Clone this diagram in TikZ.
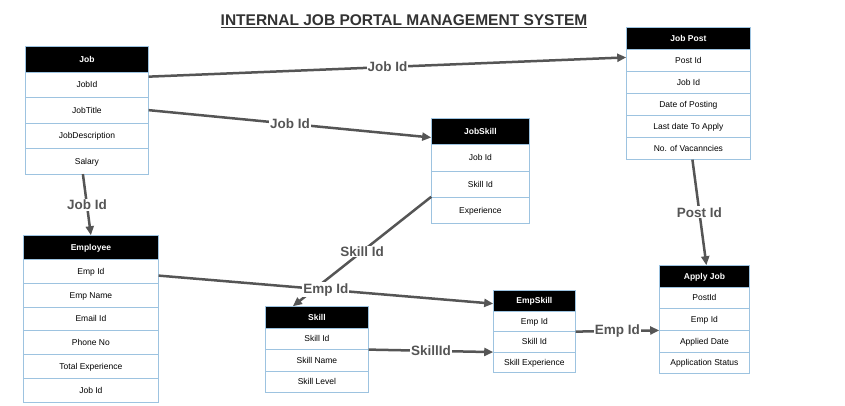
\documentclass[tikz,border=0pt]{standalone}
\usepackage{fontspec}
\setmainfont{Liberation Sans}
\usetikzlibrary{matrix, arrows.meta, positioning}
\definecolor{tblue}{HTML}{9DC3E0}
\definecolor{lgray}{HTML}{555555}
\definecolor{tgray}{HTML}{333333}

\begin{document}
\begin{tikzpicture}[x=1pt,y=-1pt,
entity/.style={matrix of nodes,anchor=north west,inner sep=0pt,row sep=-\pgflinewidth,
  nodes={draw=tblue,fill=white,anchor=center,inner sep=0pt,text height=1.6ex,text depth=0.4ex,font=\fontsize{8.5}{9.5}\selectfont},
  row 1/.style={nodes={fill=black,text=white,font=\bfseries\fontsize{8.5}{9.5}\selectfont}}},
link/.style={draw=lgray,line width=2.5pt,-{Triangle[length=9pt,width=8pt]}},
lbl/.style={fill=white,inner sep=1pt,text=lgray,font=\bfseries\fontsize{13.5}{15}\selectfont}]

\fill[white] (0,0) rectangle (845,406);
\useasboundingbox (0,0) rectangle (845,406);

\node (title) [text=tgray,font=\bfseries\fontsize{15.5}{17}\selectfont] at (404,21) {\underline{INTERNAL JOB PORTAL MANAGEMENT SYSTEM}};

\matrix (job) [entity, nodes={minimum width=123pt,minimum height=25.5pt}] at (25,46)
{
Job\\
JobId\\
JobTitle\\
JobDescription\\
Salary\\
};

\matrix (post) [entity, nodes={minimum width=124pt,minimum height=22pt}] at (626,27)
{
Job Post\\
Post Id\\
Job Id\\
Date of Posting\\
Last date To Apply\\
No. of Vacanncies\\
};

\matrix (jskill) [entity, nodes={minimum width=98pt,minimum height=26.2pt}] at (431,118)
{
JobSkill\\
Job Id\\
Skill Id\\
Experience\\
};

\matrix (emp) [entity, nodes={minimum width=135pt,minimum height=23.8pt}] at (23,235)
{
Employee\\
Emp Id\\
Emp Name\\
Email Id\\
Phone No\\
Total Experience\\
Job Id\\
};

\matrix (skill) [entity, nodes={minimum width=103pt,minimum height=21.5pt}] at (265,306)
{
Skill\\
Skill Id\\
Skill Name\\
Skill Level\\
};

\matrix (eskill) [entity, nodes={minimum width=82pt,minimum height=20.5pt}] at (493,290)
{
EmpSkill\\
Emp Id\\
Skill Id\\
Skill Experience\\
};

\matrix (apply) [entity, nodes={minimum width=90pt,minimum height=21.6pt}] at (659,265)
{
Apply Job\\
PostId\\
Emp Id\\
Applied Date\\
Application Status\\
};

% relations
\draw[link] ([yshift=8pt]job-2-1.east) -- node[lbl]{Job Id} ([yshift=3pt]post-2-1.west);
\draw[link] (job-3-1.east) -- node[lbl]{Job Id} ([yshift=-6pt]jskill-1-1.west);
\draw[link] ([xshift=-4pt]job-5-1.south) -- node[lbl]{Job Id} (emp-1-1.north);
\draw[link] (jskill-4-1.north west) -- node[lbl]{Skill Id} ([xshift=-24pt]skill-1-1.north);
\draw[link] ([yshift=-4.5pt]emp-2-1.east) -- node[lbl]{Emp Id} ([yshift=-3pt]eskill-1-1.west);
\draw[link] (skill-2-1.south east) -- node[lbl]{SkillId} (eskill-3-1.south west);
\draw[link] (eskill-2-1.south east) -- node[lbl]{Emp Id} (apply-3-1.south west);
\draw[link] ([xshift=4pt]post-6-1.south) -- node[lbl]{Post Id} ([xshift=2pt]apply-1-1.north);

\end{tikzpicture}
\end{document}
